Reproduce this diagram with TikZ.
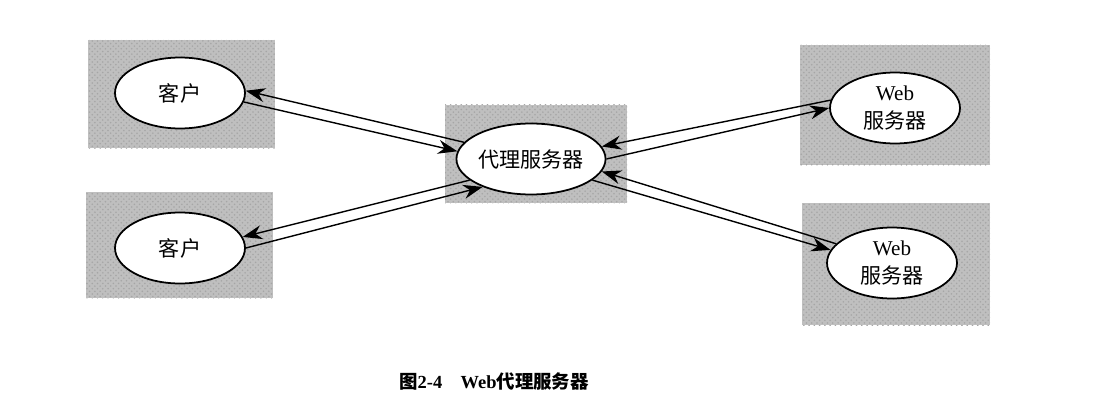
\documentclass[tikz,border=0pt]{standalone}
\usepackage{fontspec}
\setmainfont{Liberation Serif}
\newfontfamily\cjk{Noto Sans CJK SC}
\usetikzlibrary{shapes.geometric,arrows.meta,patterns}

\tikzset{
	shadebox/.style={fill=black!25, postaction={pattern=crosshatch dots, pattern color=black!35}},
	peer/.style={draw, line width=1pt, fill=white, ellipse, inner sep=0pt,
		minimum width=2.6cm, minimum height=1.42cm, align=center,
		font=\fontsize{12}{16}\selectfont},
	link/.style={line width=0.8pt, -{Stealth[length=11pt,width=8pt]}}
}

\begin{document}
\begin{tikzpicture}[x=0.02cm, y=-0.02cm]
	%%%%% START %%%%%
	\useasboundingbox (0,0) rectangle (1112,402);
	
	% shaded fields
	\fill[shadebox] (88,40) rectangle (275,148);
	\fill[shadebox] (86,192) rectangle (273,298);
	\fill[shadebox] (445,105) rectangle (627,203);
	\fill[shadebox] (800,45) rectangle (990,165);
	\fill[shadebox] (802,203) rectangle (990,325);
	
	% hosts
	\node[peer] (c1) at (180,93) {\cjk 客户};
	\node[peer] (c2) at (180,248) {\cjk 客户};
	\node[peer] (px) at (531,159) {\cjk 代理服务器};
	\node[peer] (w1) at (895,108) {Web\\{\cjk 服务器}};
	\node[peer] (w2) at (892,263) {Web\\{\cjk 服务器}};
	
	% client side
	\draw[link] (px.166) -- (c1.2);
	\draw[link] (c1.-8) -- (px.174);
	\draw[link] (px.199) -- (c2.10);
	\draw[link] (c2.0) -- (px.210);
	
	% server side
	\draw[link] (w1.173) -- (px.10);
	\draw[link] (px.0) -- (w1.180);
	\draw[link] (w2.161) -- (px.-10);
	\draw[link] (px.-19) -- (w2.168);
	
	% caption
	\node (cap) at (494,381) {\fontsize{10.5}{12}\selectfont\cjk\bfseries 图{\rmfamily 2-4}\quad{\rmfamily Web}代理服务器};
	%%%%% END %%%%%
\end{tikzpicture}
\end{document}
